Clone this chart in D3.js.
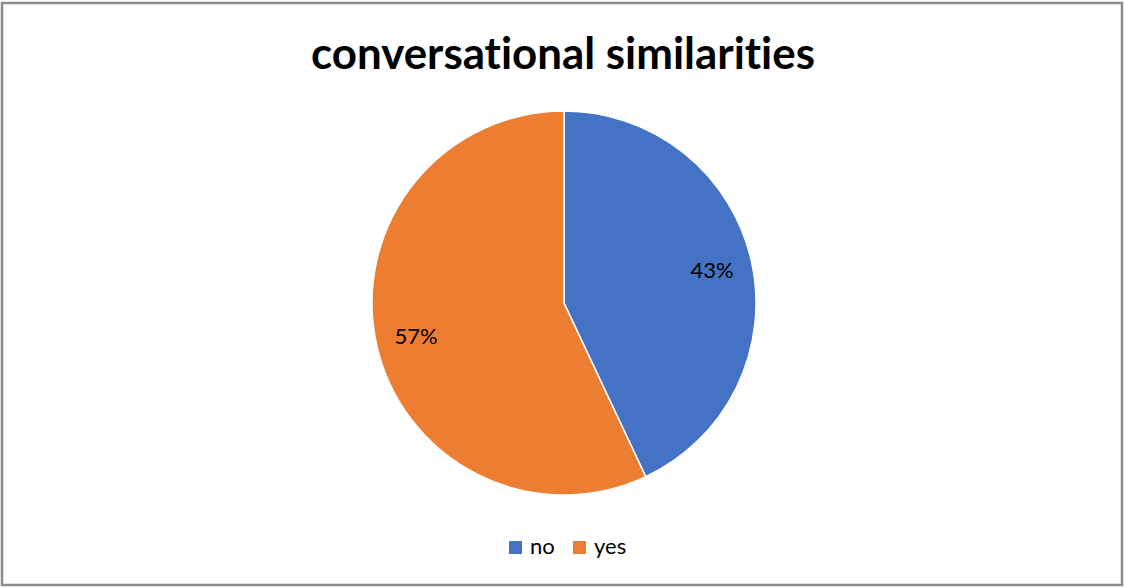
<!DOCTYPE html>
<html>
<head>
<meta charset="utf-8">
<script src="https://cdn.jsdelivr.net/npm/d3@7"></script>
<style>
  html, body { margin: 0; padding: 0; background: #fff; }
  svg { display: block; }
  text { font-family: Lato, "Open Sans", "Liberation Sans", sans-serif; font-variant-ligatures: none; }
</style>
</head>
<body>
<svg id="chart" width="1124" height="588"></svg>
<script>
// Chart data
const categories = ["no", "yes"];
const values = [43, 57];
const sliceColors = ["#4472C4", "#ED7D31"];
const titleText = "conversational similarities";

const W = 1124, H = 588;
const svg = d3.select("#chart");

// Outer frame
svg.append("rect")
  .attr("x", 2).attr("y", 3)
  .attr("width", W - 4).attr("height", H - 6)
  .attr("fill", "#fff")
  .attr("stroke", "#8c8c8c")
  .attr("stroke-width", 2.5);

// Title, fitted to its target width
const title = svg.append("text")
  .attr("x", 563).attr("y", 69)
  .attr("text-anchor", "middle")
  .attr("font-weight", "bold")
  .attr("font-size", 40)
  .attr("fill", "#000")
  .text(titleText);
const tw = title.node().getComputedTextLength();
title.attr("font-size", 40 * 504 / tw);

// Pie
const cx = 564, cy = 303, R = 192;
const color = d3.scaleOrdinal().domain(categories).range(sliceColors);
const pie = d3.pie().sort(null).value(d => d.value);
const data = categories.map((c, i) => ({ cat: c, value: values[i] }));
const arcs = pie(data);
const arc = d3.arc().innerRadius(0).outerRadius(R);
const labelArc = d3.arc().innerRadius(R * 0.79).outerRadius(R * 0.79);
const total = d3.sum(values);

const g = svg.append("g").attr("transform", `translate(${cx},${cy})`);
g.selectAll("path.slice")
  .data(arcs)
  .join("path")
  .attr("class", "slice")
  .attr("d", arc)
  .attr("fill", d => color(d.data.cat))
  .attr("stroke", "#fff")
  .attr("stroke-width", 1.5);

g.selectAll("text.pct")
  .data(arcs)
  .join("text")
  .attr("class", "pct")
  .attr("transform", d => `translate(${labelArc.centroid(d)})`)
  .attr("text-anchor", "middle")
  .attr("dy", "0.36em")
  .attr("font-size", 22)
  .attr("fill", "#000")
  .text(d => Math.round(d.data.value / total * 100) + "%");

// Legend
const legend = svg.append("g").attr("transform", "translate(509,541)");
const items = legend.selectAll("g.item")
  .data(categories)
  .join("g")
  .attr("class", "item")
  .attr("transform", (d, i) => `translate(${[0, 64][i]},0)`);
items.append("rect")
  .attr("width", 13).attr("height", 13)
  .attr("fill", d => color(d));
items.append("text")
  .attr("x", 21).attr("y", 13)
  .attr("font-size", 22)
  .attr("fill", "#000")
  .text(d => d);
</script>
</body>
</html>
